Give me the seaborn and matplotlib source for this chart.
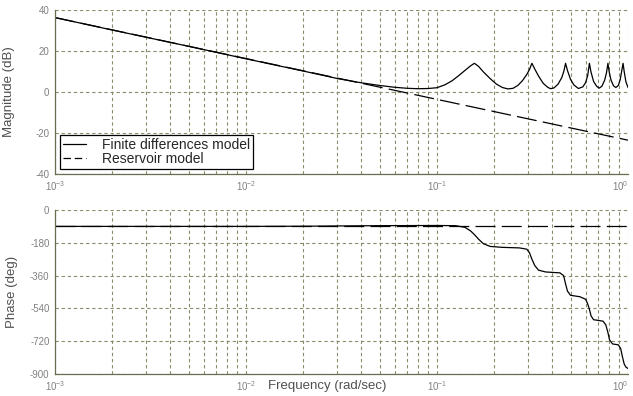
import numpy as np
import pandas as pd
import matplotlib
matplotlib.use("Agg")
import matplotlib.pyplot as plt
import matplotlib.ticker as mticker
from matplotlib.lines import Line2D
import seaborn as sns

# ---------------- data ----------------
res_freq = [0.001, 0.01, 0.1, 1.0]
res_mag = [36.3, 16.3, -3.6, -23.5]
res_phase_freq = [0.001, 0.01, 0.1, 1.0]
res_phase = [-90, -90, -90, -90]

fd_freq = [0.001, 0.002, 0.005, 0.01, 0.02, 0.03, 0.04, 0.05, 0.06, 0.07, 0.08,
           0.09, 0.1, 0.11, 0.12, 0.13, 0.14, 0.15, 0.157, 0.165, 0.175, 0.19,
           0.205, 0.22, 0.235, 0.25, 0.265, 0.28, 0.295, 0.305, 0.314, 0.325,
           0.34, 0.36, 0.38, 0.393, 0.41, 0.43, 0.45, 0.462, 0.471, 0.482, 0.5,
           0.52, 0.55, 0.58, 0.60, 0.615, 0.628, 0.64, 0.66, 0.685, 0.707, 0.73,
           0.755, 0.772, 0.785, 0.798, 0.815, 0.84, 0.864, 0.89, 0.91, 0.928,
           0.942, 0.955, 0.975, 1.0]
fd_mag = [36.3, 30.2, 22.3, 16.2, 10.2, 6.6, 4.5, 3.2, 2.3, 1.8, 1.6,
          1.7, 2.1, 3.5, 5.5, 8.0, 10.5, 12.8, 14.0, 12.5, 9.8, 6.5,
          3.8, 2.2, 1.5, 1.8, 3.2, 5.5, 8.5, 11.0, 14.0, 11.2,
          7.8, 4.2, 2.3, 1.6, 2.0, 3.8, 7.0, 10.3, 14.0, 10.5, 6.2,
          3.5, 1.7, 2.5, 4.6, 8.0, 14.0, 9.8, 5.2, 2.8, 1.9, 2.8,
          5.8, 9.5, 14.0, 9.6, 5.8, 3.0, 2.2, 3.2, 6.0, 10.5,
          14.0, 10.0, 5.0, 2.2]

fd_phase_freq = [0.001, 0.01, 0.02, 0.05, 0.1, 0.125, 0.14, 0.15, 0.157, 0.165,
                 0.175, 0.19, 0.22, 0.27, 0.295, 0.305, 0.314, 0.325, 0.34, 0.37,
                 0.44, 0.46, 0.471, 0.482, 0.50, 0.56, 0.60, 0.615, 0.628, 0.64,
                 0.66, 0.74, 0.765, 0.785, 0.80, 0.83, 0.89, 0.915, 0.935, 0.955,
                 0.975, 1.0]
fd_phase = [-90, -90, -89, -86, -85, -86, -95, -115, -135, -160,
            -185, -200, -205, -208, -215, -235, -270, -305, -330, -340,
            -345, -360, -405, -445, -468, -476, -490, -515, -545, -580,
            -602, -610, -630, -672, -712, -735, -740, -760, -805, -845,
            -862, -870]

legend_labels = ["Finite differences model", "Reservoir model"]
mag_ticks = [-40, -20, 0, 20, 40]
phase_ticks = [-900, -720, -540, -360, -180, 0]
freq_ticks = [1e-3, 1e-2, 1e-1, 1.0]
freq_tick_labels = [r"$10^{-3}$", r"$10^{-2}$", r"$10^{-1}$", r"$10^{0}$"]

# ---------------- style ----------------
sns.set_style("white")
plt.rcParams["font.family"] = ["Liberation Sans", "DejaVu Sans"]
plt.rcParams["axes.unicode_minus"] = False
plt.rcParams["mathtext.fontset"] = "custom"
plt.rcParams["mathtext.rm"] = "Liberation Sans"
plt.rcParams["mathtext.it"] = "Liberation Sans"

grid_color = "#8c8c6c"
spine_color = "#6b6b50"
tick_color = "#808080"
label_color = "#505050"
dash_style = (0, (16, 5))

fig = plt.figure(figsize=(6.33, 3.96), dpi=100)
ax1 = fig.add_axes([55 / 633, 1 - 174 / 396, 573 / 633, 164 / 396])
ax2 = fig.add_axes([55 / 633, 1 - 374 / 396, 573 / 633, 164 / 396])

df_fd_mag = pd.DataFrame({"freq": fd_freq, "val": fd_mag})
df_res_mag = pd.DataFrame({"freq": res_freq, "val": res_mag})
df_fd_ph = pd.DataFrame({"freq": fd_phase_freq, "val": fd_phase})
df_res_ph = pd.DataFrame({"freq": res_phase_freq, "val": res_phase})

sns.lineplot(data=df_fd_mag, x="freq", y="val", ax=ax1, color="black", lw=0.9,
             sort=False, estimator=None, legend=False)
sns.lineplot(data=df_res_mag, x="freq", y="val", ax=ax1, color="black", lw=0.9,
             sort=False, estimator=None, legend=False, linestyle=dash_style)
sns.lineplot(data=df_fd_ph, x="freq", y="val", ax=ax2, color="black", lw=0.9,
             sort=False, estimator=None, legend=False)
sns.lineplot(data=df_res_ph, x="freq", y="val", ax=ax2, color="black", lw=0.9,
             sort=False, estimator=None, legend=False, linestyle=dash_style)

for ax, ticks in ((ax1, mag_ticks), (ax2, phase_ticks)):
    ax.set_xscale("log")
    ax.set_xlim(1e-3, 1)
    ax.set_ylim(ticks[0], ticks[-1])
    ax.set_yticks(ticks)
    ax.set_xticks(freq_ticks)
    ax.set_xticklabels(freq_tick_labels)
    ax.xaxis.set_minor_locator(mticker.LogLocator(base=10, subs=np.arange(2, 10), numticks=20))
    ax.xaxis.set_minor_formatter(mticker.NullFormatter())
    ax.grid(True, which="major", axis="both", color=grid_color, ls=(0, (3, 2.5)), lw=0.8)
    ax.grid(True, which="minor", axis="x", color=grid_color, ls=(0, (3, 2.5)), lw=0.8)
    ax.set_axisbelow(True)
    for s in ("top", "right"):
        ax.spines[s].set_visible(False)
    for s in ("left", "bottom"):
        ax.spines[s].set_color(spine_color)
        ax.spines[s].set_linewidth(0.9)
    ax.tick_params(axis="both", which="both", length=0, labelsize=7, labelcolor=tick_color, pad=4)
    ax.get_xticklabels()[-1].set_ha("right")
    ax.set_xlabel("")
    ax.set_ylabel("")

ax1.set_ylabel("Magnitude (dB)", fontsize=9.5, color=label_color)
ax1.yaxis.set_label_coords(-0.070, 0.5)
ax2.set_ylabel("Phase (deg)", fontsize=9.5, color=label_color)
ax2.yaxis.set_label_coords(-0.065, 0.5)
ax2.set_xlabel("Frequency (rad/sec)", fontsize=9.5, color=label_color)
ax2.xaxis.set_label_coords(0.475, -0.035)
ax2.xaxis.label.set_va("top")

handles = [Line2D([], [], color="black", lw=0.9),
           Line2D([], [], color="black", lw=0.9, linestyle=(0, (6, 3)))]
leg = ax1.legend(handles, legend_labels, loc="lower left",
                 bbox_to_anchor=(5 / 573, 5 / 164), borderaxespad=0,
                 frameon=True, fancybox=False, edgecolor="black", fontsize=10,
                 handlelength=1.7, handletextpad=1.1, borderpad=0.2, labelspacing=0.0)
leg.get_frame().set_linewidth(0.9)
leg.get_frame().set_facecolor("white")
leg.get_frame().set_alpha(1)

fig.savefig("out.png", dpi=100)
